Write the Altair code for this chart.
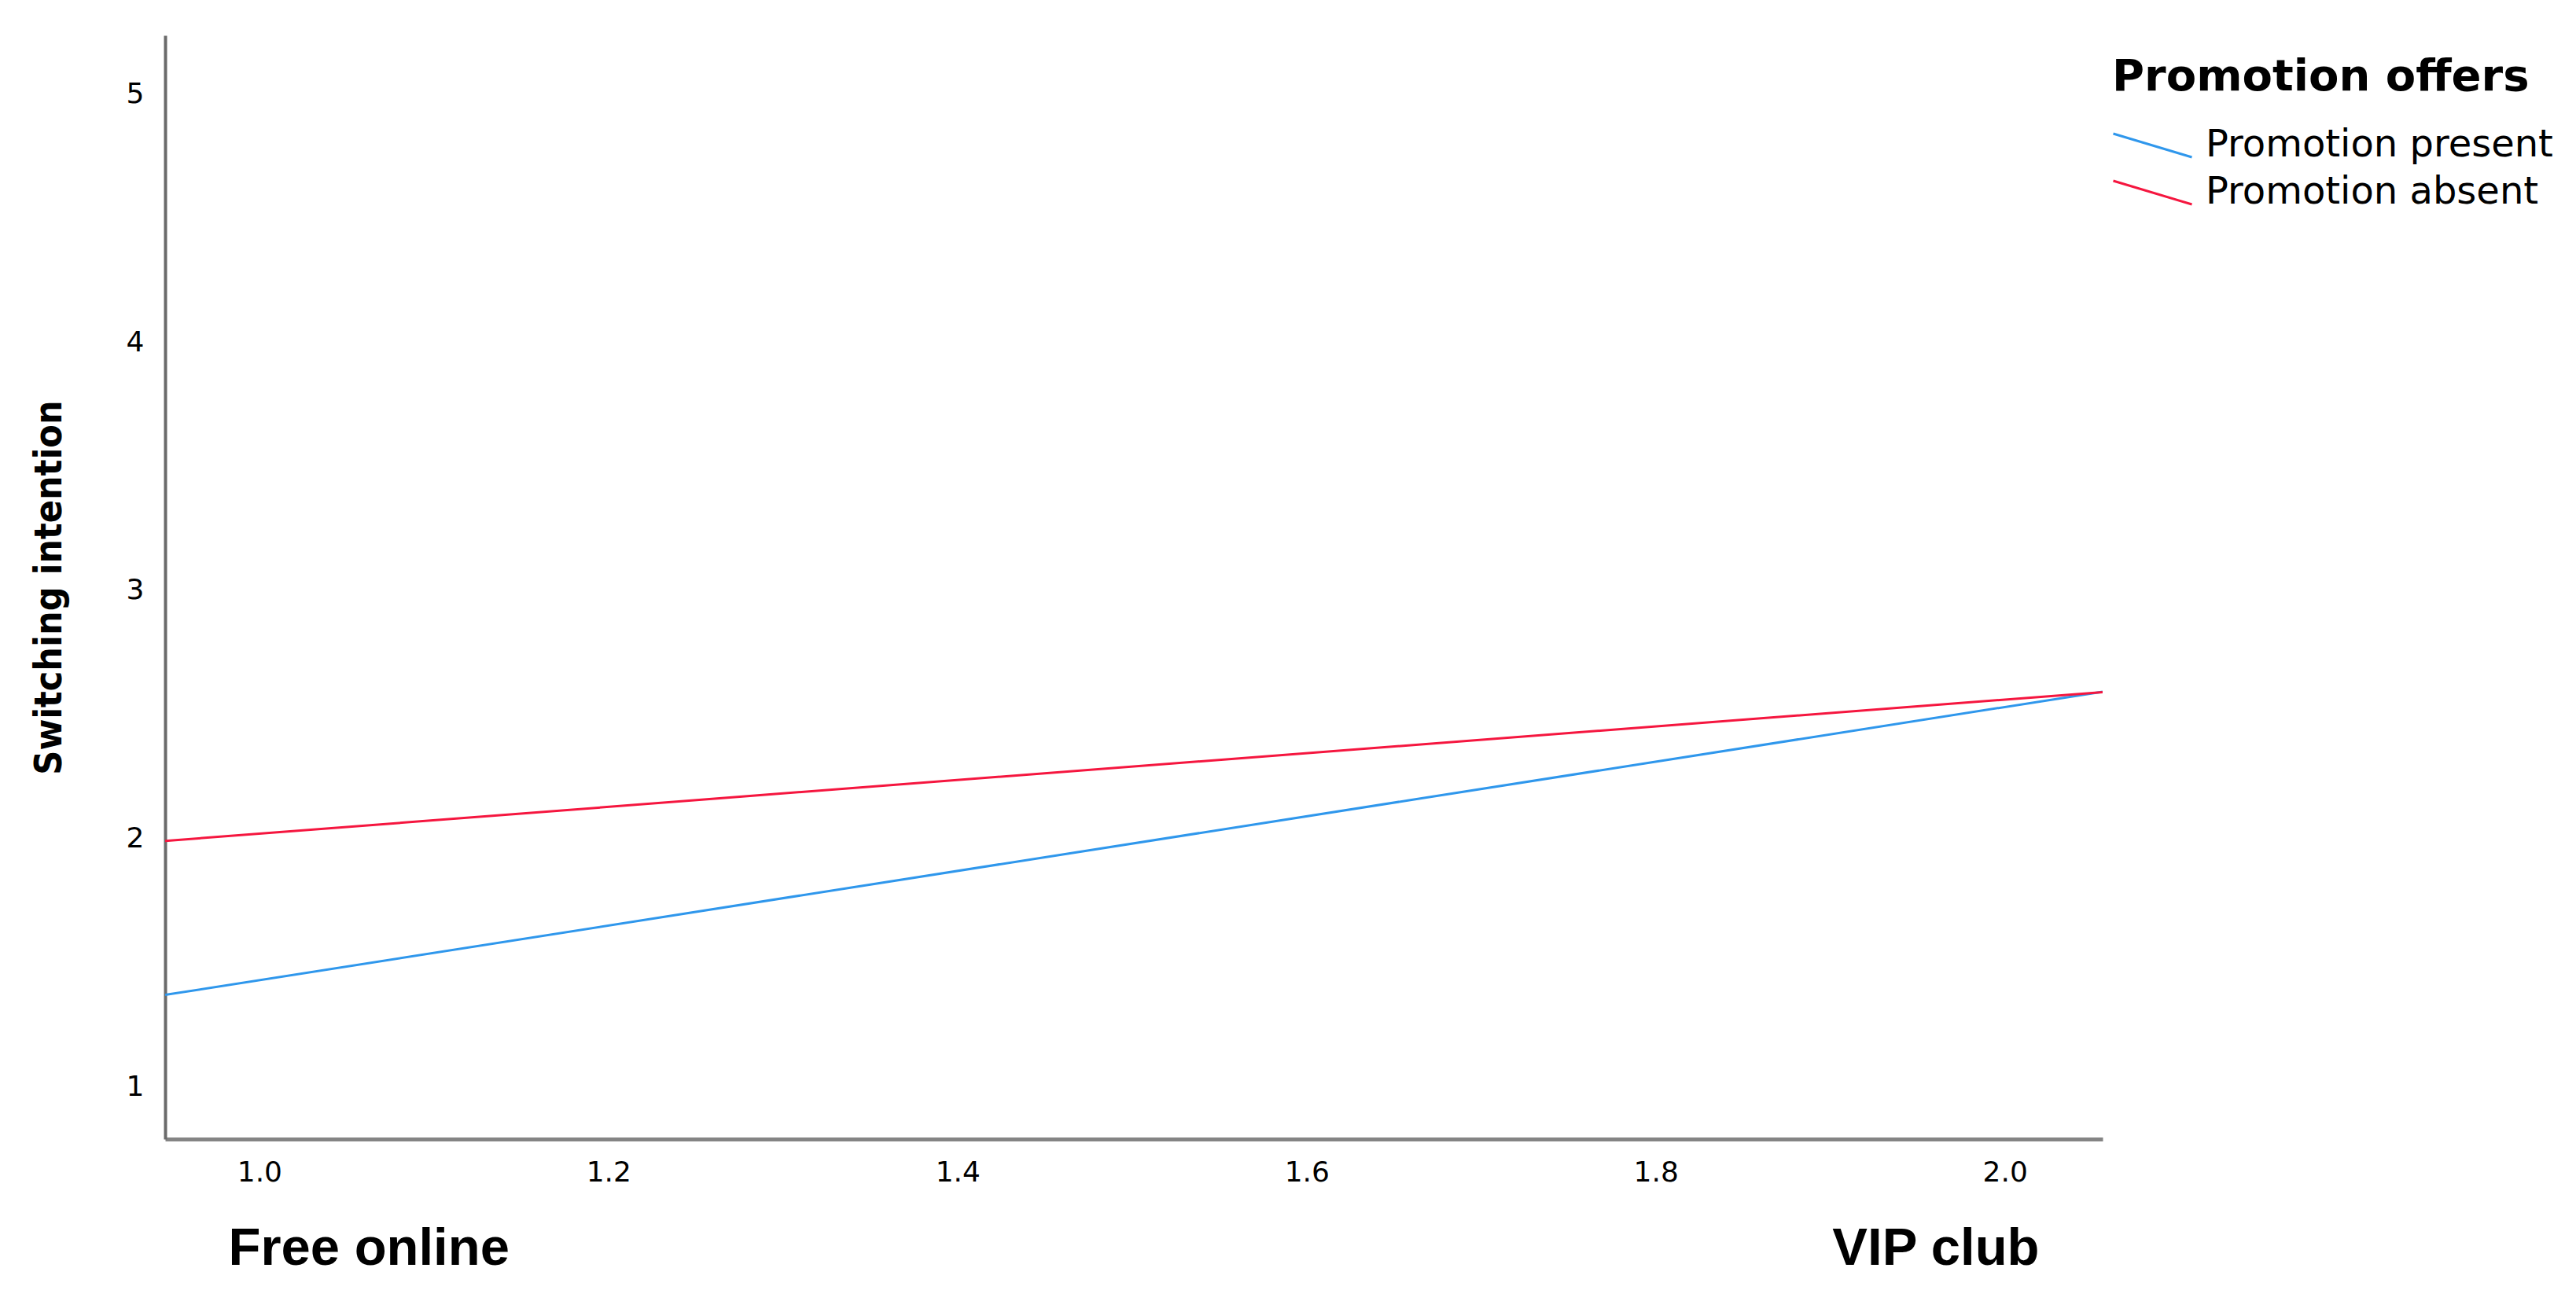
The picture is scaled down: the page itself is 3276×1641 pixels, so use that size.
import altair as alt
import pandas as pd

# ---- data ----
ad_type_codes = [1, 2]                      # 1 = Free online, 2 = VIP club
series_names = ["Promotion present", "Promotion absent"]
present_means = [1.43, 2.53]
absent_means = [2.02, 2.56]
x_tick_values = [1.0, 1.2, 1.4, 1.6, 1.8, 2.0]
y_tick_values = [1, 2, 3, 4, 5]
x_end_labels = ["Free online", "VIP club"]
series_colors = ["#2f97ec", "#f5163f"]

x_domain = [0.946, 2.056]
y_domain = [0.79, 5.235]

rows = []
for name, vals in zip(series_names, [present_means, absent_means]):
    for code, v in zip(ad_type_codes, vals):
        rows.append({"Ad type": code, "Switching intention": v, "Promotion offers": name})
df = pd.DataFrame(rows)

W, H = 2464, 1404

x_scale = alt.Scale(domain=x_domain, nice=False, zero=False)
y_scale = alt.Scale(domain=y_domain, nice=False, zero=False)

tick_font = "DejaVu Sans"

lines = (
    alt.Chart(df)
    .transform_regression(
        "Ad type", "Switching intention", groupby=["Promotion offers"], extent=x_domain
    )
    .mark_line(strokeWidth=3, clip=True)
    .encode(
        x=alt.X(
            "Ad type:Q",
            scale=x_scale,
            axis=alt.Axis(
                orient="bottom",
                values=x_tick_values,
                format=".1f",
                ticks=False,
                tickSize=0,
                grid=False,
                domainColor="#848484",
                domainWidth=5,
                labelFont=tick_font,
                labelFontSize=36,
                labelColor="#000000",
                labelPadding=25,
                title=x_end_labels[0],
                titleFont="Liberation Sans",
                titleFontSize=67,
                titleFontWeight="bold",
                titleColor="#000000",
                titleAlign="left",
                titleBaseline="alphabetic",
                titleX=80,
                titleY=159,
            ),
        ),
        y=alt.Y(
            "Switching intention:Q",
            scale=y_scale,
            axis=alt.Axis(
                values=y_tick_values,
                format="d",
                ticks=False,
                tickSize=0,
                grid=False,
                domainColor="#6b6b6b",
                domainWidth=4,
                labelFont=tick_font,
                labelFontSize=36,
                labelColor="#000000",
                labelPadding=27,
                title="Switching intention",
                titleFont="Liberation Sans Narrow, DejaVu Sans Condensed, Liberation Sans",
                titleFontSize=48,
                titleFontWeight="bold",
                titleColor="#000000",
                titleAngle=270,
                titleBaseline="middle",
                titleAlign="center",
                titleLimit=0,
                titleX=-147,
                titleY=702,
            ),
        ),
        color=alt.Color(
            "Promotion offers:N",
            scale=alt.Scale(domain=series_names, range=series_colors),
            legend=alt.Legend(
                orient="none",
                legendX=2476,
                legendY=26,
                title="Promotion offers",
                titleFont="DejaVu Sans",
                titleFontSize=56,
                titleFontWeight="bold",
                titleColor="#000000",
                titlePadding=34,
                titleLimit=0,
                labelFont="DejaVu Sans",
                labelFontSize=48,
                labelColor="#000000",
                labelOffset=16,
                labelLimit=0,
                symbolType="M-1,-0.3L1,0.3",
                symbolSize=10000,
                symbolStrokeWidth=3,
                clipHeight=48,
                rowPadding=12,
            ),
        ),
    )
)

vip_axis = (
    alt.Chart(df)
    .mark_point(opacity=0)
    .encode(
        x=alt.X(
            "Ad type:Q",
            scale=x_scale,
            axis=alt.Axis(
                orient="bottom",
                labels=False,
                ticks=False,
                domain=False,
                grid=False,
                title=x_end_labels[1],
                titleFont="Liberation Sans",
                titleFontSize=67,
                titleFontWeight="bold",
                titleColor="#000000",
                titleAlign="right",
                titleBaseline="alphabetic",
                titleX=2383,
                titleY=159,
            ),
        )
    )
)

chart = (
    alt.layer(lines, vip_axis)
    .resolve_scale(x="independent")
    .properties(
        width=W,
        height=H,
        autosize=alt.AutoSizeParams(type="none"),
        padding={"left": 202, "top": 37, "right": 590, "bottom": 180},
        background="#ffffff",
    )
    .configure_view(stroke=None)
)

chart.save("out.html", embed_options={"renderer": "svg", "actions": False})
